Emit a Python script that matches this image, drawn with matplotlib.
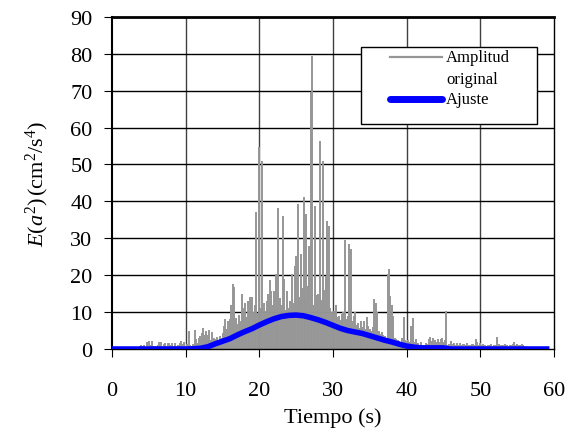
import numpy as np
from matplotlib import pyplot as plt
from matplotlib.patches import Rectangle

# energy of the recorded signal, one value every 0.2 s (five per row = one second)
dt = 0.2
amp_orig = [
    0.2, 0.3, 0.2, 0.4, 0.3,   # 0 s
    0.3, 0.4, 0.2, 0.3, 0.5,   # 1
    0.4, 0.3, 0.2, 0.5, 0.3,   # 2
    0.3, 0.5, 0.4, 0.6, 0.7,   # 3
    1.1, 0.8, 1.2, 0.6, 1.9,   # 4
    2.2, 1.0, 2.1, 0.9, 0.7,   # 5
    0.8, 1.1, 2.0, 1.8, 0.9,   # 6
    1.3, 1.7, 0.9, 1.6, 1.5,   # 7
    1.1, 1.7, 0.9, 1.5, 0.7,   # 8
    1.0, 1.5, 2.1, 1.3, 2.0,   # 9
    0.8, 1.3, 5.0, 1.2, 0.9,   # 10
    1.4, 5.1, 2.6, 1.5, 2.9,   # 11
    3.5, 4.4, 5.6, 3.8, 4.9,   # 12
    3.9, 5.2, 2.4, 4.6, 3.1,   # 13
    2.6, 3.2, 1.9, 3.6, 3.0,   # 14
    4.4, 6.1, 8.0, 5.5, 7.6,   # 15
    8.2, 12.0, 17.6, 16.8, 8.5,  # 16
    6.9, 9.2, 7.5, 14.9, 11.0,   # 17
    12.6, 8.8, 13.1, 9.5, 14.0,  # 18
    14.2, 10.1, 12.0, 37.2, 9.8,  # 19
    54.7, 11.0, 50.8, 12.4, 10.2,  # 20
    13.0, 14.9, 18.6, 15.8, 12.0,  # 21
    15.8, 20.3, 11.5, 38.2, 13.9,  # 22
    12.0, 36.0, 19.0, 10.5, 15.8,  # 23
    11.2, 13.0, 20.3, 12.5, 22.6,  # 24
    25.3, 39.3, 14.0, 25.7, 16.5,  # 25
    41.1, 13.5, 36.6, 17.2, 28.0,  # 26
    69.6, 79.3, 12.0, 38.7, 14.5,  # 27
    15.0, 56.4, 13.2, 50.8, 16.0,  # 28
    19.9, 34.8, 33.4, 11.0, 10.0,  # 29
    9.5, 10.4, 12.0, 8.6, 9.0,   # 30
    7.8, 9.4, 10.0, 29.6, 8.2,   # 31
    9.0, 28.5, 27.0, 7.5, 9.0,   # 32
    9.9, 6.5, 7.0, 5.8, 7.7,     # 33
    6.0, 7.7, 5.4, 8.6, 6.2,     # 34
    5.5, 5.0, 6.0, 13.6, 12.4,   # 35
    9.9, 4.8, 4.0, 4.5, 3.8,     # 36
    3.5, 3.0, 20.3, 21.7, 14.4,  # 37
    11.9, 9.0, 3.0, 2.6, 2.4,    # 38
    2.2, 2.0, 3.0, 8.6, 2.5,     # 39
    2.2, 2.4, 2.0, 6.3, 8.5,     # 40
    2.0, 2.7, 1.6, 1.5, 1.2,     # 41
    1.8, 1.2, 1.0, 1.5, 1.3,     # 42
    2.7, 3.2, 2.1, 3.0, 2.4,     # 43
    1.8, 2.7, 2.0, 2.7, 3.0,     # 44
    2.0, 2.5, 10.4, 1.0, 1.4,    # 45
    2.3, 1.4, 1.6, 1.2, 1.5,     # 46
    1.2, 1.5, 1.0, 1.3, 1.4,     # 47
    1.1, 1.5, 1.2, 1.0, 1.3,     # 48
    1.4, 1.0, 2.7, 1.9, 1.2,     # 49
    1.5, 1.0, 1.3, 1.1, 0.9,     # 50
    1.2, 1.0, 1.4, 0.9, 1.1,     # 51
    1.0, 3.3, 1.2, 1.3, 1.0,     # 52
    1.2, 1.0, 1.3, 1.1, 0.9,     # 53
    1.2, 1.0, 1.3, 1.8, 1.1,     # 54
    1.3, 1.0, 1.2, 1.3, 1.0,     # 55
    0.8, 0.6, 0.5, 0.4, 0.5,     # 56
    0.4, 0.3, 0.4, 0.3, 0.2,     # 57
    0.3, 0.2, 0.3, 0.2, 0.3,     # 58
]
t_orig = np.arange(len(amp_orig)) * dt

# fitted envelope, one value per second
t_fit = list(range(0, 60))
e_fit = [0, 0, 0, 0, 0, 0, 0, 0, 0, 0,
         0, 0.05, 0.2, 0.6, 1.4, 2.1, 2.8, 3.8, 4.7, 5.5,
         6.5, 7.4, 8.2, 8.8, 9.1, 9.2, 9.0, 8.5, 7.9, 7.2,
         6.4, 5.6, 5.0, 4.6, 4.2, 3.6, 3.0, 2.4, 1.9, 1.3,
         0.8, 0.5, 0.3, 0.3, 0.3, 0.3, 0, 0, 0, 0,
         0, 0, 0, 0, 0, 0, 0, 0, 0, 0]

xticks = [0, 10, 20, 30, 40, 50, 60]
yticks = [0, 10, 20, 30, 40, 50, 60, 70, 80, 90]

plt.rcParams['font.family'] = 'Liberation Serif'
plt.rcParams['mathtext.fontset'] = 'custom'
plt.rcParams['mathtext.rm'] = 'Liberation Serif'
plt.rcParams['mathtext.it'] = 'Liberation Serif:italic'

fig = plt.figure(figsize=(5.87, 4.31), dpi=100)
ax = fig.add_axes([0.1908, 0.1879, 0.753, 0.7708])

# grid (vertical a bit lighter than horizontal, like the original)
for x in xticks[1:-1]:
    ax.axvline(x, color='#404040', lw=1, zorder=0)
for y in yticks[1:-1]:
    ax.axhline(y, color='black', lw=1, zorder=0)

ax.vlines(t_orig, 0, amp_orig, color='#969696', lw=1.4, zorder=2)
ax.plot(t_fit, e_fit, color='#0000ff', lw=4, zorder=3)

ax.set_xlim(0, 60)
ax.set_ylim(0, 90)
ax.set_xticks(xticks)
ax.set_yticks(yticks)
ax.tick_params(axis='both', direction='out', length=6, labelsize=16, color='black')
ax.tick_params(axis='x', pad=17)
ax.tick_params(axis='y', pad=8)
ax.set_xlabel('Tiempo (s)', fontsize=16, labelpad=5)
ax.set_ylabel(r'$E(a^2)\,$(cm$^2$/s$^4$)', fontsize=16, labelpad=14)

ax.spines['top'].set_linewidth(2)
ax.spines['left'].set_linewidth(1.5)
ax.spines['right'].set_linewidth(1)
ax.spines['bottom'].set_linewidth(1)

# legend box drawn by hand so the two-line label sits like the original
ax.add_patch(Rectangle((0.563, 0.677), 0.3985, 0.232, transform=ax.transAxes,
                       facecolor='white', edgecolor='black', lw=1, zorder=5))
ax.plot([0.629, 0.747], [0.879, 0.879], transform=ax.transAxes,
        color='#969696', lw=1.6, zorder=6)
ax.plot([0.629, 0.747], [0.7526, 0.7526], transform=ax.transAxes,
        color='#0000ff', lw=5, solid_capstyle='round', zorder=6)
ax.text(0.756, 0.879, 'Amplitud', transform=ax.transAxes, fontsize=12, va='center', zorder=7)
ax.text(0.756, 0.813, 'original', transform=ax.transAxes, fontsize=12, va='center', zorder=7)
ax.text(0.756, 0.7526, 'Ajuste', transform=ax.transAxes, fontsize=12, va='center', zorder=7)

fig.savefig('out.png', dpi=100)
